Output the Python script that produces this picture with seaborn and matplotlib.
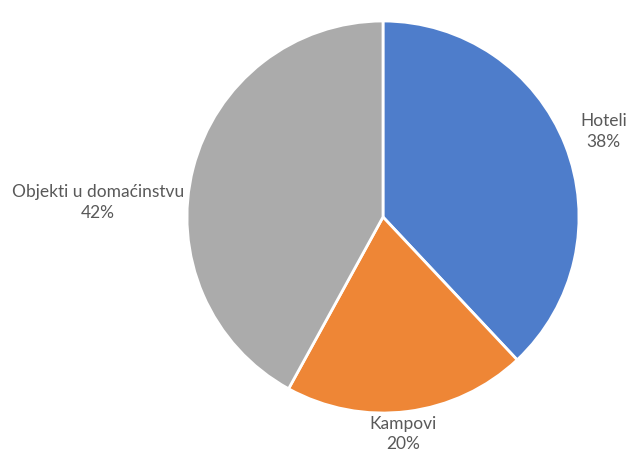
import numpy as np
import matplotlib
matplotlib.use('Agg')
import matplotlib.pyplot as plt
import seaborn as sns

categories = ['Hoteli', 'Kampovi', 'Objekti u domaćinstvu']
shares     = [38, 20, 42]
colors     = ['#4E7DCB', '#EE8636', '#ABABAB']
label_dist = [1.21, 1.10, 1.47]     # per-label radial offset (Excel placement)
label_nudge = [(0, -2), (-7, -3), (-6, -57)]

sns.set_theme(style='white')
plt.rcParams['font.family'] = ['Lato', 'DejaVu Sans']

W, H = 626, 454
fig = plt.figure(figsize=(W / 100, H / 100), dpi=100)
ax = fig.add_axes([0, 0, 1, 1])

cx, cy, r = 383, H - 217, 196
wedges, _ = ax.pie(shares, colors=colors, startangle=90, counterclock=False,
                   center=(cx, cy), radius=r, frame=True,
                   wedgeprops=dict(edgecolor='white', linewidth=2))

for w, cat, val, d, (dx, dy) in zip(wedges, categories, shares, label_dist, label_nudge):
    mid = np.deg2rad((w.theta1 + w.theta2) / 2)
    x = cx + d * r * np.cos(mid) + dx
    y = cy + d * r * np.sin(mid) + dy
    ax.text(x, y, f'{cat}\n{val}%', ha='center', va='center',
            fontsize=12.5, color='#595959', linespacing=1.35)

ax.set_xlim(0, W)
ax.set_ylim(0, H)
ax.set_aspect('equal')
ax.axis('off')
fig.savefig('out.png', dpi=100)
